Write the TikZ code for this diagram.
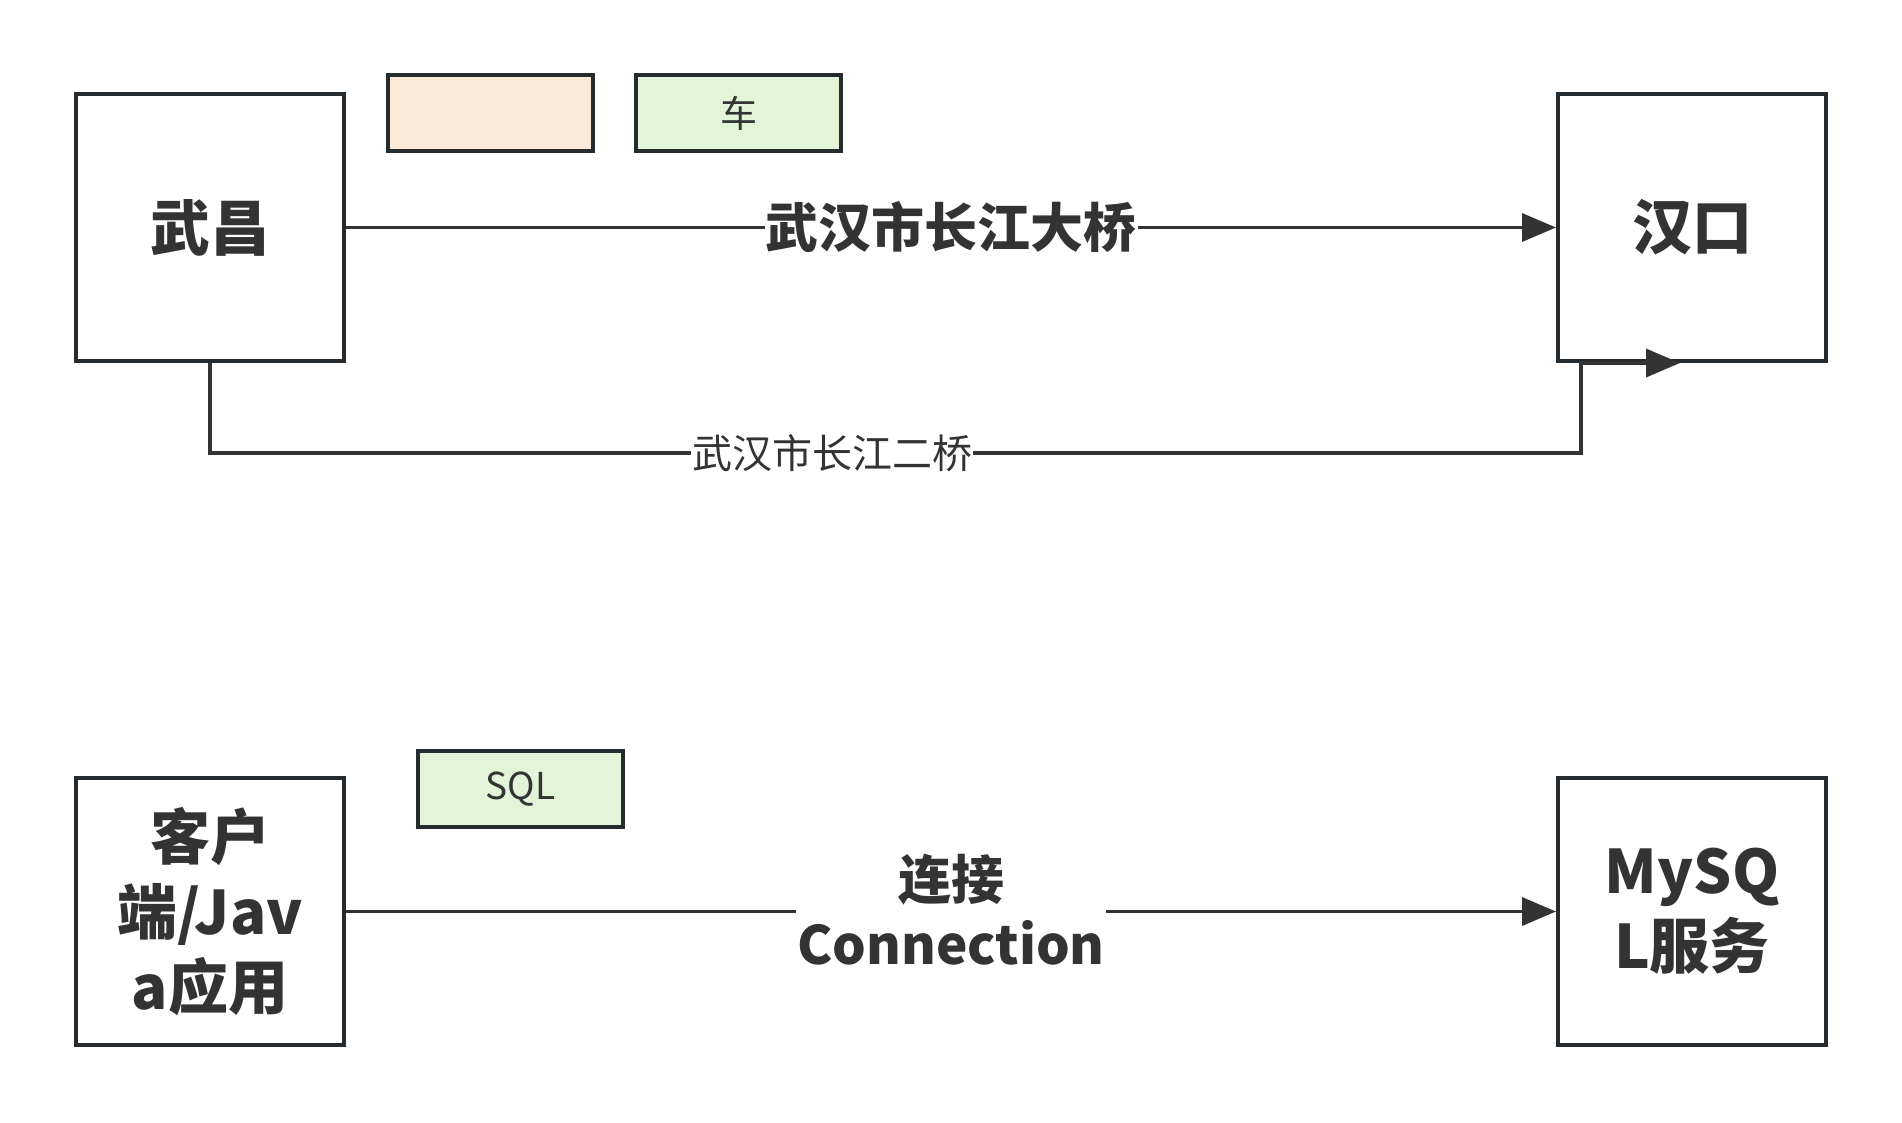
\documentclass[tikz,border=0pt]{standalone}
\usepackage{fontspec}
\setmainfont{Noto Sans CJK SC}
\usepackage{tikz}
\usetikzlibrary{arrows.meta,positioning,calc}
\definecolor{ink}{HTML}{333333}
\definecolor{frame}{HTML}{262B30}
\definecolor{peach}{HTML}{FBE9D8}
\definecolor{mint}{HTML}{E3F5D9}

\begin{document}
\begin{tikzpicture}[
  x=1pt,y=-1pt,
  box/.style={draw=frame,line width=4pt,fill=white,minimum width=268pt,minimum height=267pt,
              inner sep=0pt,align=center,text=ink,font=\fontsize{60}{75}\selectfont\bfseries},
  tag/.style={draw=frame,line width=4pt,minimum width=205pt,minimum height=76pt,
              inner sep=0pt,text=ink,font=\fontsize{37}{44}\selectfont},
  arr/.style={-{Triangle[length=34pt,width=28pt]},draw=ink,line width=3.5pt},
  lab/.style={fill=white,inner sep=1pt,text=ink,align=center},
  big/.style={font=\fontsize{53}{65}\selectfont\bfseries},
  small/.style={font=\fontsize{40}{48}\selectfont}
]
\path[use as bounding box,fill=white] (0,0) rectangle (1902,1122);
\node[box] (wc) at (210,227.5) {武昌};
\node[box,right=1210pt of wc] (hk) {汉口};
\node[tag,fill=peach,anchor=north west] (blank) at (386,73) {};
\node[tag,fill=mint,right=39pt of blank] (car) {车};
\node[box] (cl) at (210,911.5) {客户\\端/Jav\\a应用};
\node[box,right=1210pt of cl] (my) {MySQ\\L服务};
\node[tag,fill=mint,anchor=north west] (sql) at (416,749) {SQL};
\coordinate (bend) at (1581,453);
\coordinate (hkin) at ($(hk.south west)+(124,0)$);
\draw[arr] (wc) -- node[lab,big] {武汉市长江大桥} (hk);
\draw[arr] (wc.south) |- node[lab,small,pos=0.727] {武汉市长江二桥} (bend)
  -- (bend |- hk.south) -- (hkin);
\draw[arr] (cl) -- node[lab,big,yshift=2pt] {连接\\Connection} (my);
\end{tikzpicture}
\end{document}
